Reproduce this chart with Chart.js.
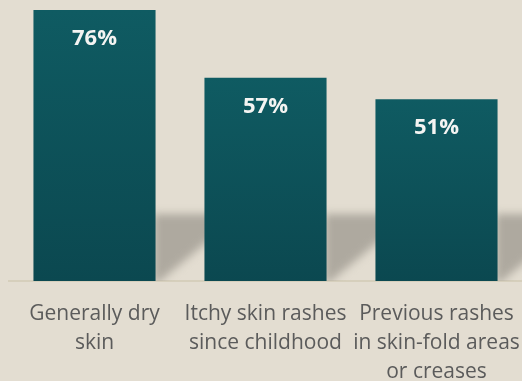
<!DOCTYPE html>
<html>
<head>
<meta charset="utf-8">
<script src="https://cdn.jsdelivr.net/npm/chart.js@4/dist/chart.umd.min.js"></script>
<style>
  html, body { margin: 0; padding: 0; background: #e3ddd1; }
  #wrap { width: 522px; height: 381px; position: relative; }
</style>
</head>
<body>
<div id="wrap"><canvas id="c" width="522" height="381"></canvas></div>
<script>
const categories = [
  ['Generally dry', 'skin'],
  ['Itchy skin rashes', 'since childhood'],
  ['Previous rashes', 'in skin-fold areas', 'or creases']
];
const values = [76, 57, 51];
const valueLabels = ['76%', '57%', '51%'];
const yMax = 78.8;

const bgPlugin = {
  id: 'bg',
  beforeDraw(chart) {
    const ctx = chart.ctx;
    ctx.save();
    ctx.fillStyle = '#e3ddd1';
    ctx.fillRect(0, 0, chart.width, chart.height);
    ctx.restore();
  }
};

const shadowPlugin = {
  id: 'shadow',
  beforeDatasetsDraw(chart) {
    const ctx = chart.ctx;
    const meta = chart.getDatasetMeta(0);
    const area = chart.chartArea;
    ctx.save();
    ctx.beginPath();
    ctx.rect(0, 0, chart.width, area.bottom);
    ctx.clip();
    ctx.filter = 'blur(4px)';
    ctx.fillStyle = 'rgb(174,169,159)';
    meta.data.forEach(bar => {
      const R = bar.x + bar.width / 2;
      const B = bar.base;
      ctx.beginPath();
      ctx.moveTo(R - 2, B - 67);
      ctx.lineTo(R + 72, B - 67);
      ctx.lineTo(R + 72, B - 56);
      ctx.lineTo(R + 2, B + 2);
      ctx.lineTo(R - 2, B + 2);
      ctx.closePath();
      ctx.fill();
    });
    ctx.restore();
  }
};

const labelPlugin = {
  id: 'vlabels',
  afterDatasetsDraw(chart) {
    const ctx = chart.ctx;
    const meta = chart.getDatasetMeta(0);
    ctx.save();
    ctx.fillStyle = '#f4f4f2';
    ctx.font = 'bold 22px "Open Sans"';
    ctx.textAlign = 'center';
    ctx.textBaseline = 'middle';
    meta.data.forEach((bar, i) => {
      ctx.fillText(valueLabels[i], bar.x, bar.y + 29);
    });
    ctx.restore();
  }
};

new Chart(document.getElementById('c'), {
  type: 'bar',
  data: {
    labels: categories,
    datasets: [{
      data: values,
      backgroundColor(context) {
        const chart = context.chart;
        const area = chart.chartArea;
        if (!area) return '#0e555c';
        const yScale = chart.scales.y;
        const v = context.parsed ? context.parsed.y : values[context.dataIndex];
        const top = yScale.getPixelForValue(v);
        const bottom = yScale.getPixelForValue(0);
        const g = chart.ctx.createLinearGradient(0, top, 0, bottom);
        g.addColorStop(0, '#0f5b62');
        g.addColorStop(1, '#0b4850');
        return g;
      },
      borderWidth: 0,
      barPercentage: 0.714,
      categoryPercentage: 1.0
    }]
  },
  options: {
    responsive: false,
    animation: false,
    devicePixelRatio: 1,
    layout: { padding: { left: 9, right: 0, top: 0, bottom: 0 } },
    plugins: { legend: { display: false }, tooltip: { enabled: false } },
    scales: {
      x: {
        grid: { display: false, drawOnChartArea: false, drawTicks: false },
        border: { display: true, color: 'rgb(214,207,188)', width: 2 },
        ticks: {
          color: '#5b5b5b',
          font: { family: '"Open Sans"', size: 21, lineHeight: 1.38 },
          padding: 19,
          maxRotation: 0,
          minRotation: 0,
          autoSkip: false
        },
        afterFit(scale) {
          scale.height = 100;
          scale.paddingLeft = 0;
          scale.paddingRight = 0;
        }
      },
      y: {
        display: false,
        min: 0,
        max: yMax
      }
    }
  },
  plugins: [bgPlugin, shadowPlugin, labelPlugin]
});
</script>
</body>
</html>
